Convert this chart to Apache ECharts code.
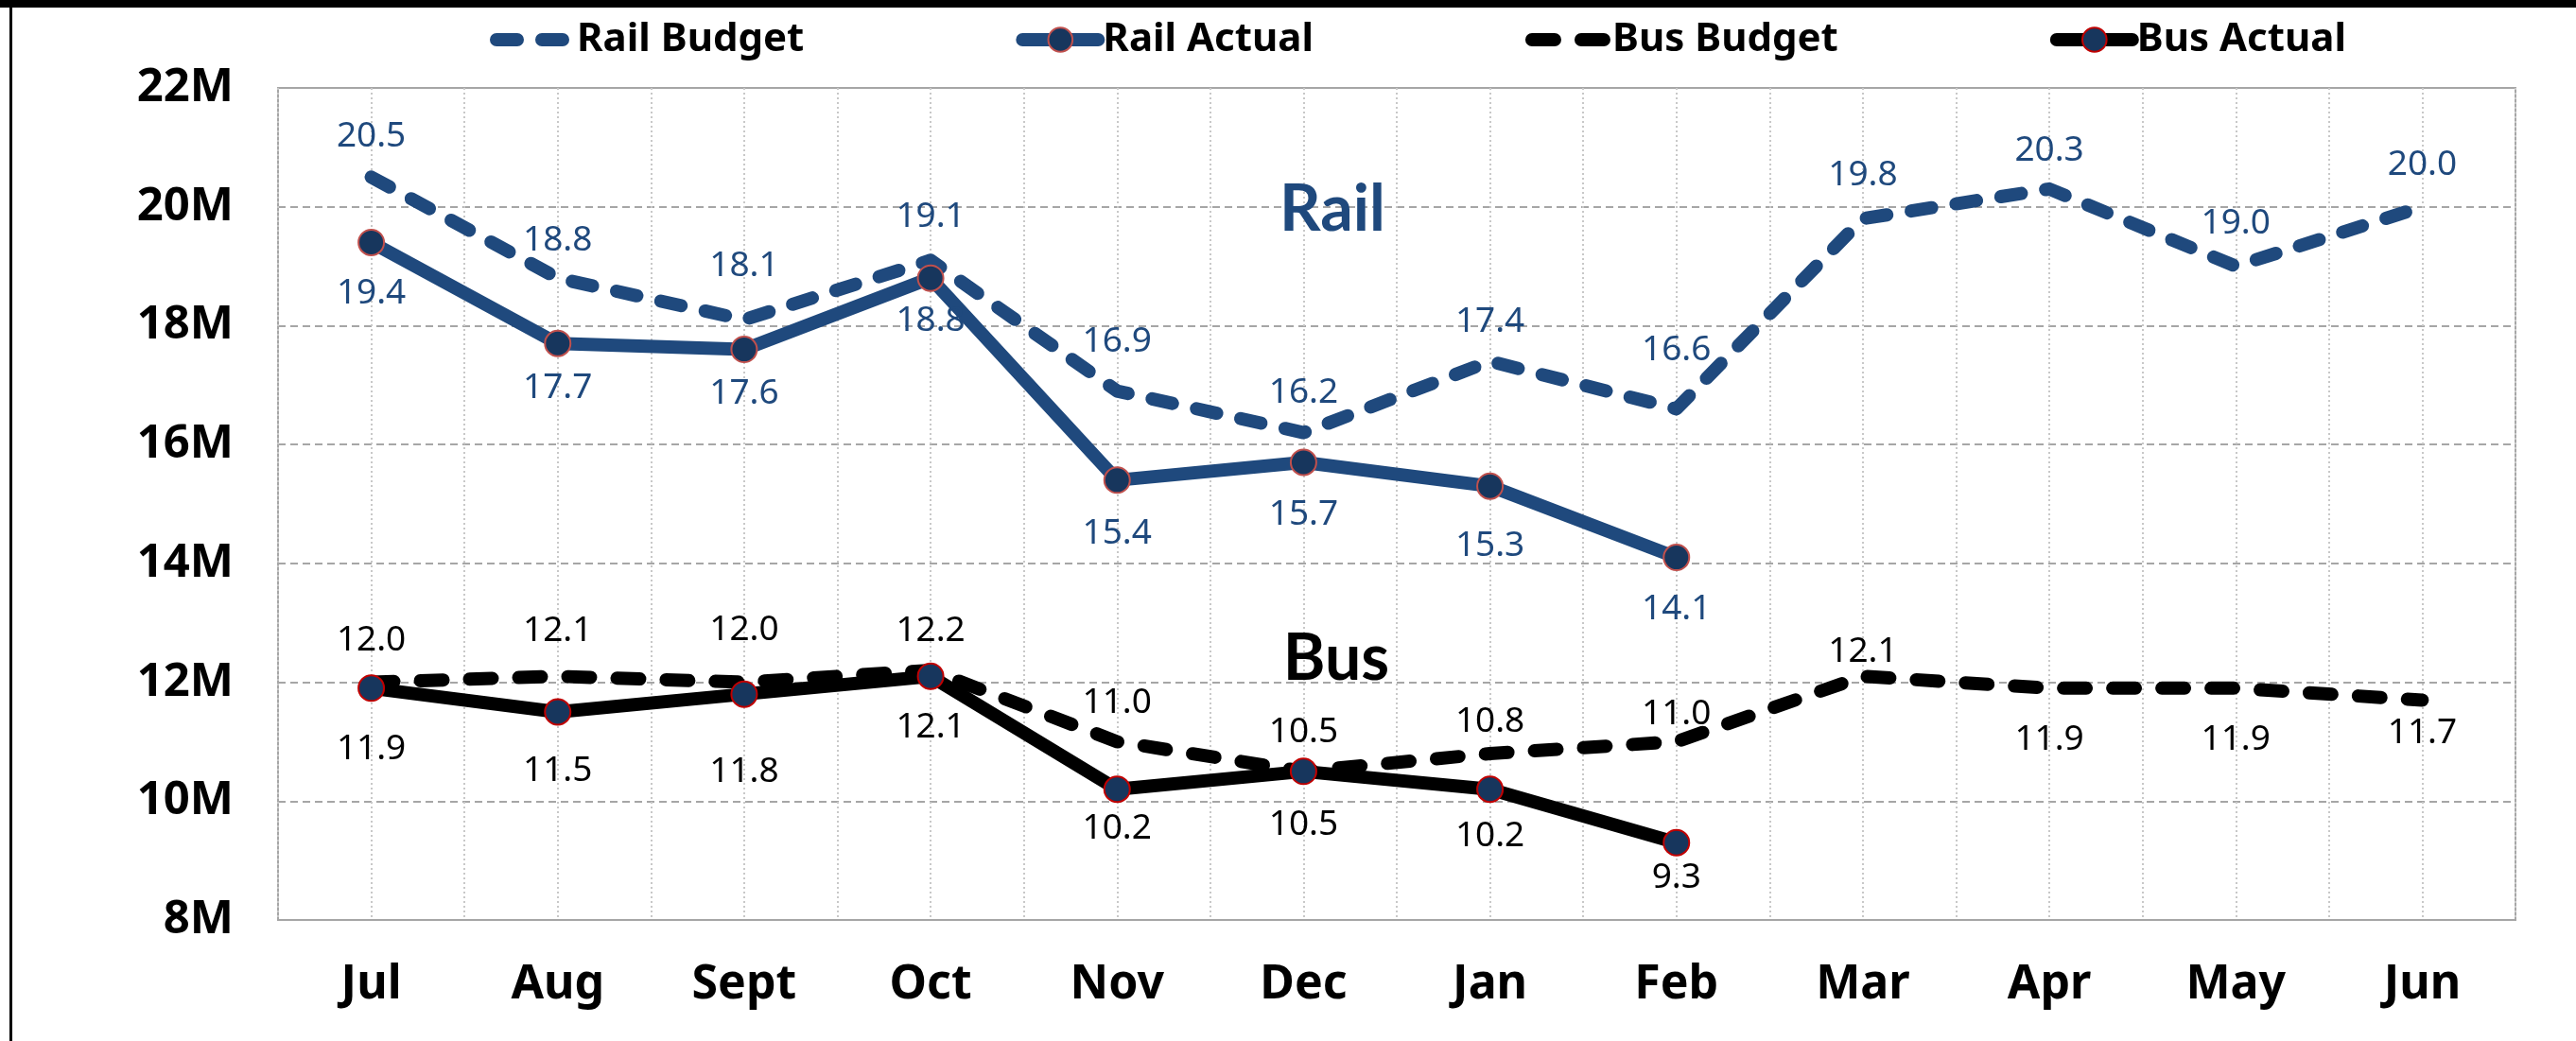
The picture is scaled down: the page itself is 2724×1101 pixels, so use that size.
<!DOCTYPE html>
<html>
<head>
<meta charset="utf-8">
<script src="https://cdn.jsdelivr.net/npm/echarts@6/dist/echarts.min.js"></script>
<style>
    html, body { margin: 0; padding: 0; background: #fff; }
    #chart { width: 2724px; height: 1101px; }
</style>
</head>
<body>
<div id="chart"></div>
<script>
// months (fiscal year)
var months = ['Jul', 'Aug', 'Sept', 'Oct', 'Nov', 'Dec', 'Jan', 'Feb', 'Mar', 'Apr', 'May', 'Jun'];

// ridership, millions
var railBudget = [20.5, 18.8, 18.1, 19.1, 16.9, 16.2, 17.4, 16.6, 19.8, 20.3, 19.0, 20.0];
var railActual = [19.4, 17.7, 17.6, 18.8, 15.4, 15.7, 15.3, 14.1];
var busBudget = [12.0, 12.1, 12.0, 12.2, 11.0, 10.5, 10.8, 11.0, 12.1, 11.9, 11.9, 11.7];
var busActual = [11.9, 11.5, 11.8, 12.1, 10.2, 10.5, 10.2, 9.3];

var yTicks = [8, 10, 12, 14, 16, 18, 20, 22];

// label placement (px from the point, like the hand-moved excel labels)
var railBudgetDy = [-43, -40, -57, -46, -52, -42, -42, -62, -46, -40, -45, -44];
var railActualDy = [54, 47, 47, 45, 57, 55, 63, 55];
var busBudgetDy = [-44, -48, -55, -42, -41, -41, -34, -29, -26, 55, 55, 35];
var busActualDy = [65, 62, 82, 54, 42, 57, 50, 37];

var BLUE = '#1f497d';
var NAVY = '#17365d';

function withLabels(values, dy) {
    var out = [];
    for (var i = 0; i < values.length; i++) {
        out.push({ value: values[i], label: { offset: [0, dy[i]] } });
    }
    return out;
}

function lineSeries(name, values, dy, color, textColor, dashed, markerBorder) {
    var s = {
        name: name,
        type: 'line',
        data: withLabels(values, dy),
        xAxisIndex: 0,
        smooth: false,
        animation: false,
        lineStyle: {
            color: color,
            width: 14,
            type: dashed ? dashed : 'solid',
            cap: 'round',
            join: 'round'
        },
        label: {
            show: true,
            position: 'inside',
            color: textColor,
            fontFamily: 'Noto Sans',
            fontSize: 37,
            formatter: function (p) { return p.value.toFixed(1); }
        }
    };
    if (markerBorder) {
        s.symbol = 'circle';
        s.symbolSize = 27;
        s.itemStyle = { color: NAVY, borderColor: markerBorder, borderWidth: 2 };
    } else {
        s.symbol = 'circle';
        s.symbolSize = 2;
        s.itemStyle = { color: 'rgba(0,0,0,0)', borderWidth: 0 };
    }
    return s;
}

var myChart = echarts.init(document.getElementById('chart'));
var option = {
    backgroundColor: '#fff',
    animation: false,
    grid: {
        left: 294,
        right: 64,
        top: 93,
        bottom: 128,
        show: true,
        backgroundColor: '#fff',
        borderColor: '#a6a6a6',
        borderWidth: 2
    },
    legend: {
        left: 513,
        top: 16,
        itemWidth: 80,
        itemHeight: 32,
        itemGap: 224,
        lineStyle: { width: 14, cap: 'round' },
        textStyle: {
            fontFamily: 'Noto Sans',
            fontWeight: 'bold',
            fontSize: 42,
            color: '#000'
        },
        data: ['Rail Budget', 'Rail Actual', 'Bus Budget', 'Bus Actual']
    },
    xAxis: [
        {
            type: 'category',
            data: months,
            boundaryGap: true,
            axisLine: { show: false },
            axisTick: { show: false },
            splitLine: { show: false },
            axisLabel: {
                interval: 0,
                margin: 44,
                color: '#000',
                fontFamily: 'Noto Sans',
                fontWeight: 'bold',
                fontSize: 50
            }
        },
        {
            // only there for the dotted verticals at every half month
            type: 'value',
            min: 0,
            max: 12,
            interval: 0.5,
            position: 'bottom',
            axisLine: { show: false },
            axisTick: { show: false },
            axisLabel: { show: false },
            splitLine: { show: true, lineStyle: { color: '#c8c8c8', width: 2, type: [2, 3] } }
        }
    ],
    yAxis: {
        type: 'value',
        min: yTicks[0],
        max: yTicks[yTicks.length - 1],
        interval: 2,
        axisLine: { show: false },
        axisTick: { show: false },
        axisLabel: {
            margin: 47,
            color: '#000',
            fontFamily: 'Noto Sans',
            fontWeight: 'bold',
            fontSize: 49,
            formatter: function (v) { return v + 'M'; }
        },
        splitLine: { show: true, lineStyle: { color: '#a6a6a6', width: 2, type: [8, 5] } }
    },
    series: [
        lineSeries('Rail Budget', railBudget, railBudgetDy, BLUE, BLUE, [22, 26], null),
        lineSeries('Rail Actual', railActual, railActualDy, BLUE, BLUE, null, '#c0504d'),
        lineSeries('Bus Budget', busBudget, busBudgetDy, '#000', '#000', [24, 28], null),
        lineSeries('Bus Actual', busActual, busActualDy, '#000', '#000', null, '#c00000')
    ],
    graphic: [
        { type: 'rect', left: 0, top: 0, shape: { width: 2724, height: 8 }, style: { fill: '#000' }, z: 100 },
        { type: 'rect', left: 10, top: 0, shape: { width: 3, height: 1101 }, style: { fill: '#000' }, z: 100 },
        {
            type: 'text', x: 1409, y: 222, z: 50,
            style: { text: 'Rail', fill: BLUE, font: 'bold 68px Lato', textAlign: 'center', textVerticalAlign: 'middle' }
        },
        {
            type: 'text', x: 1413, y: 697, z: 50,
            style: { text: 'Bus', fill: '#000', font: 'bold 68px Lato', textAlign: 'center', textVerticalAlign: 'middle' }
        }
    ]
};
myChart.setOption(option);
</script>
</body>
</html>
